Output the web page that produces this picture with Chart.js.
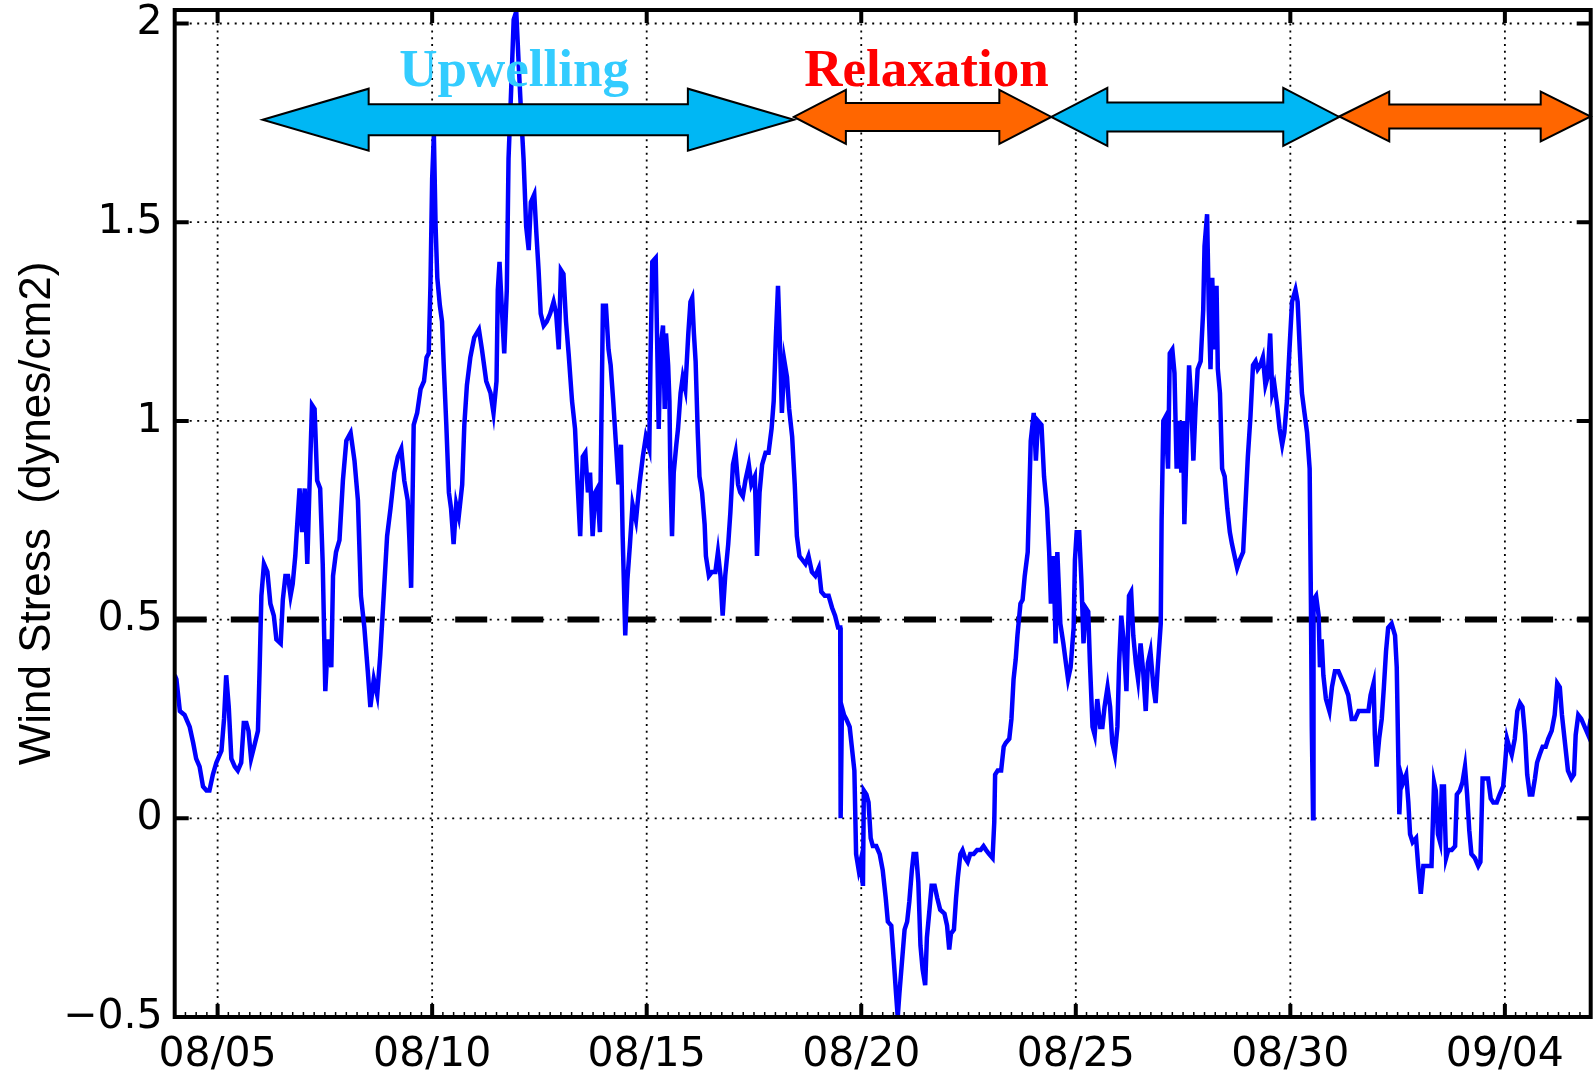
<!DOCTYPE html>
<html>
<head>
<meta charset="utf-8">
<script src="https://cdn.jsdelivr.net/npm/chart.js@4.4.1/dist/chart.umd.min.js"></script>
<style>
  html, body { margin: 0; padding: 0; background: #ffffff; }
  #wrap { width: 1594px; height: 1075px; }
</style>
</head>
<body>
<div id="wrap"><canvas id="stressChart" width="1594" height="1075"></canvas></div>
<script>
// Wind stress record, days counted from 08/04 00:00
const dayOffset = [
  0.00,0.04,0.12,0.23,0.35,0.43,0.50,0.58,0.66,0.74,0.81,0.89,0.97,1.09,1.15,1.20,1.26,1.32,1.40,1.47,1.55,1.61,1.67,1.72,1.78,1.85,1.94,1.98,2.02,2.08,2.16,2.23,2.31,2.37,2.47,2.52,2.58,2.64,2.70,2.75,2.81,2.85,2.91,2.97,3.03,3.09,3.14,3.20,3.26,3.32,3.39,3.45,3.51,3.57,3.65,3.69,3.76,3.84,3.92,4.00,4.10,4.19,4.27,4.34,4.42,4.50,4.56,4.64,4.72,4.79,4.87,4.95,5.03,5.12,5.20,5.28,5.35,5.43,5.47,5.51,
  5.57,5.65,5.73,5.81,5.87,5.92,5.96,6.00,6.04,6.08,6.12,6.18,6.23,6.27,6.33,6.39,6.44,6.50,6.56,6.62,6.70,6.75,6.81,6.89,6.98,7.09,7.16,7.26,7.36,7.43,7.50,7.53,7.57,7.63,7.68,7.74,7.78,7.84,7.90,7.96,8.02,8.07,8.13,8.19,8.25,8.30,8.38,8.43,8.48,8.53,8.60,8.67,8.75,8.83,8.89,8.95,9.00,9.06,9.12,9.18,9.26,9.33,9.39,9.45,9.51,9.57,9.63,9.68,9.74,9.80,9.85,9.91,9.98,10.05,10.11,10.16,10.22,10.29,10.34,10.40,10.44,10.50,10.55,10.61,10.67,10.75,10.83,10.91,10.98,11.06,11.09,
  11.13,11.21,11.24,11.28,11.32,11.38,11.42,11.45,11.50,11.53,11.55,11.59,11.63,11.69,11.73,11.79,11.84,11.90,11.97,12.02,12.06,12.10,12.14,12.19,12.23,12.29,12.35,12.38,12.45,12.52,12.60,12.66,12.72,12.77,12.83,12.90,12.95,13.01,13.07,13.13,13.18,13.24,13.30,13.38,13.44,13.52,13.57,13.63,13.69,13.77,13.84,13.91,13.96,14.01,14.06,14.11,14.15,14.21,14.27,14.32,14.39,14.45,14.50,14.56,14.63,14.70,14.77,14.85,14.93,15.01,15.07,15.15,15.24,15.32,15.39,15.46,15.51,
  15.52,15.55,15.60,15.65,15.73,15.78,15.84,15.88,15.94,15.98,16.04,16.06,16.12,16.17,16.22,16.27,16.35,16.43,16.50,16.57,16.62,16.70,16.76,16.81,16.85,16.89,16.95,17.01,17.07,17.12,17.18,17.22,17.28,17.33,17.38,17.43,17.49,17.53,17.59,17.64,17.71,17.77,17.84,17.94,18.00,18.05,18.09,18.16,18.21,18.25,18.31,18.36,18.42,18.48,18.54,18.62,18.70,18.78,18.85,18.91,18.98,19.06,19.10,19.12,19.18,19.26,19.32,19.37,19.45,19.50,19.55,19.60,19.64,19.71,19.76,19.81,19.88,19.91,19.95,20.02,20.07,20.12,20.20,20.26,20.33,20.38,20.42,20.48,20.53,20.57,20.64,
  20.71,20.77,20.82,20.88,20.95,20.98,21.02,21.08,21.13,21.18,21.23,21.29,21.33,21.39,21.44,21.50,21.57,21.62,21.67,21.74,21.80,21.85,21.91,21.97,22.01,22.06,22.12,22.18,22.24,22.29,22.34,22.40,22.45,22.51,22.57,22.63,22.68,22.74,22.81,22.86,22.91,22.98,23.00,23.04,23.09,23.15,23.19,23.25,23.30,23.35,23.40,23.46,23.50,23.53,23.58,23.64,23.69,23.74,23.79,23.84,23.91,23.97,24.00,24.06,24.10,24.14,24.18,24.23,24.28,24.31,24.36,24.41,24.47,24.53,24.59,24.64,24.70,24.76,24.82,24.90,24.95,25.01,25.07,25.13,25.19,25.24,25.30,25.36,25.42,25.47,25.53,25.58,25.63,25.69,25.75,25.81,25.86,25.92,25.98,26.04,26.12,26.17,26.22,26.27,26.33,26.39,26.45,26.48,26.50,26.53,
  26.54,26.60,26.66,26.69,26.73,26.77,26.83,26.91,26.97,27.04,27.12,27.20,27.28,27.35,27.43,27.51,27.59,27.70,27.82,27.87,27.94,27.97,28.01,28.07,28.13,28.18,28.23,28.28,28.36,28.44,28.48,28.52,28.54,28.58,28.63,28.70,28.75,28.79,28.85,28.93,28.98,29.04,29.10,29.16,29.24,29.29,29.35,29.39,29.44,29.49,29.53,29.58,29.63,29.68,29.76,29.84,29.88,29.95,30.01,30.07,30.12,30.17,30.22,30.30,30.38,30.43,30.48,30.53,30.61,30.67,30.73,30.81,30.88,30.96,31.00,31.05,31.10,31.16,31.23,31.29,31.35,31.41,31.47,31.52,31.58,31.64,31.70,31.75,31.81,31.88,31.95,32.01,32.09,32.16,32.22,32.28,32.33,32.40,32.47,32.55,32.61,32.65,32.71,32.78,32.86,32.94,33.00
];

// Wind stress, dynes/cm2
const windStress = [
  0.36,0.35,0.27,0.26,0.23,0.19,0.15,0.13,0.08,0.07,0.07,0.11,0.14,0.17,0.25,0.36,0.28,0.15,0.13,0.12,0.14,0.24,0.24,0.22,0.15,0.18,0.22,0.38,0.56,0.64,0.62,0.54,0.51,0.45,0.44,0.55,0.61,0.61,0.56,0.59,0.66,0.73,0.83,0.72,0.83,0.64,0.83,1.04,1.03,0.85,0.83,0.64,0.32,0.45,0.38,0.61,0.67,0.70,0.85,0.95,0.97,0.90,0.80,0.56,0.48,0.37,0.28,0.35,0.31,0.41,0.56,0.71,0.78,0.87,0.91,0.93,0.85,0.80,0.70,0.58,
  0.99,1.02,1.08,1.10,1.16,1.17,1.34,1.61,1.72,1.49,1.36,1.29,1.25,1.14,0.99,0.82,0.78,0.69,0.79,0.76,0.84,0.99,1.09,1.16,1.21,1.23,1.18,1.10,1.07,1.02,1.10,1.33,1.40,1.27,1.17,1.33,1.66,1.83,2.01,2.03,1.89,1.78,1.66,1.49,1.43,1.55,1.57,1.47,1.38,1.27,1.24,1.25,1.27,1.30,1.27,1.18,1.38,1.37,1.25,1.17,1.05,0.98,0.84,0.71,0.91,0.92,0.82,0.87,0.71,0.82,0.83,0.72,1.29,1.29,1.18,1.14,1.05,0.93,0.84,0.94,0.71,0.46,0.60,0.69,0.79,0.75,0.84,0.91,0.96,0.93,1.16,
  1.40,1.41,1.22,0.98,1.18,1.24,1.03,1.22,1.14,1.05,0.88,0.71,0.87,0.94,0.98,1.07,1.11,1.08,1.22,1.30,1.31,1.22,1.15,0.97,0.86,0.82,0.74,0.66,0.61,0.62,0.62,0.67,0.61,0.51,0.61,0.69,0.77,0.89,0.92,0.84,0.82,0.81,0.85,0.89,0.84,0.86,0.66,0.82,0.89,0.92,0.92,0.98,1.05,1.21,1.34,1.18,1.02,1.15,1.11,1.03,0.96,0.84,0.71,0.66,0.65,0.64,0.66,0.62,0.61,0.63,0.57,0.56,0.56,0.53,0.51,0.48,0.48,
  0.00,0.28,0.26,0.25,0.23,0.18,0.12,-0.09,-0.13,-0.11,-0.17,0.07,0.06,0.04,-0.05,-0.07,-0.07,-0.09,-0.13,-0.20,-0.26,-0.27,-0.36,-0.44,-0.50,-0.44,-0.36,-0.28,-0.26,-0.21,-0.13,-0.09,-0.09,-0.16,-0.32,-0.38,-0.42,-0.30,-0.23,-0.17,-0.17,-0.20,-0.23,-0.24,-0.27,-0.33,-0.29,-0.28,-0.20,-0.15,-0.09,-0.08,-0.10,-0.11,-0.09,-0.09,-0.08,-0.08,-0.07,-0.08,-0.09,-0.10,-0.01,0.11,0.12,0.12,0.18,0.19,0.20,0.25,0.35,0.40,0.46,0.54,0.55,0.61,0.67,0.79,0.95,1.02,0.90,1.00,0.99,0.86,0.78,0.67,0.54,0.66,0.44,0.67,0.49,
  0.44,0.39,0.35,0.38,0.48,0.65,0.72,0.72,0.60,0.44,0.53,0.52,0.39,0.23,0.21,0.30,0.23,0.23,0.28,0.33,0.28,0.19,0.16,0.23,0.39,0.51,0.44,0.32,0.56,0.57,0.46,0.39,0.35,0.44,0.37,0.27,0.39,0.42,0.33,0.29,0.38,0.49,0.75,1.00,1.01,0.88,1.17,1.18,1.12,0.88,1.00,0.87,1.00,0.74,0.93,1.14,1.05,0.90,1.03,1.13,1.15,1.28,1.44,1.52,1.28,1.13,1.36,1.18,1.34,1.13,1.07,0.88,0.86,0.78,0.72,0.69,0.66,0.63,0.65,0.67,0.78,0.91,1.01,1.14,1.15,1.13,1.14,1.16,1.09,1.11,1.22,1.07,1.09,1.04,0.98,0.94,0.97,1.05,1.18,1.30,1.33,1.30,1.18,1.07,1.02,0.97,0.88,0.54,0.23,0.00,
  0.55,0.56,0.51,0.38,0.45,0.36,0.30,0.27,0.33,0.37,0.37,0.35,0.33,0.31,0.25,0.25,0.27,0.27,0.27,0.31,0.34,0.21,0.13,0.20,0.25,0.33,0.42,0.48,0.49,0.46,0.38,0.13,0.01,0.11,0.09,0.11,0.04,-0.04,-0.06,-0.05,-0.12,-0.19,-0.12,-0.12,-0.12,-0.12,0.09,0.07,-0.04,-0.06,0.08,0.08,-0.10,-0.08,-0.08,-0.07,0.06,0.07,0.09,0.13,0.06,-0.03,-0.09,-0.10,-0.12,-0.11,0.10,0.10,0.10,0.05,0.04,0.04,0.06,0.08,0.13,0.20,0.18,0.16,0.20,0.27,0.29,0.28,0.21,0.11,0.06,0.06,0.10,0.14,0.16,0.18,0.18,0.20,0.22,0.26,0.34,0.33,0.26,0.19,0.12,0.10,0.11,0.21,0.26,0.25,0.23,0.21,0.25
];

// Axis ticks
const xTickDays = [1, 6, 11, 16, 21, 26, 31];
const xTickLabels = ['08/05', '08/10', '08/15', '08/20', '08/25', '08/30', '09/04'];
const yTickValues = [-0.5, 0, 0.5, 1, 1.5, 2];
const yTickLabels = ['\u22120.5', '0', '0.5', '1', '1.5', '2'];
const dayRange = [0, 33];
const stressRange = [-0.5, 2.034];

// Upwelling threshold
const thresholdStress = 0.5;

// Wind regimes marked above the record
const phaseKind = ['Upwelling', 'Relaxation', 'Upwelling', 'Relaxation'];
const phaseStart = [2.05, 14.43, 20.43, 27.14];
const phaseEnd = [14.43, 20.43, 27.14, 33.0];
const phaseLevel = [1.758, 1.765, 1.765, 1.766];
const phaseTitle = ['Upwelling', 'Relaxation'];
const phaseTitleDay = [7.91, 17.52];
const phaseTitleLevel = [1.842, 1.842];

const minorTickStep = 0.25;

const stressPoints = dayOffset.map((d, i) => ({ x: d, y: windStress[i] }));
const thresholdPoints = dayRange.map(d => ({ x: d, y: thresholdStress }));

const phaseColors = { Upwelling: '#00b7f4', Relaxation: '#ff6600' };
const titleColors = { Upwelling: '#33ccff', Relaxation: '#ff0000' };

function doubleArrow(ctx, x0, x1, yc, head, headHalf, shaftHalf) {
  ctx.beginPath();
  ctx.moveTo(x0, yc);
  ctx.lineTo(x0 + head, yc - headHalf);
  ctx.lineTo(x0 + head, yc - shaftHalf);
  ctx.lineTo(x1 - head, yc - shaftHalf);
  ctx.lineTo(x1 - head, yc - headHalf);
  ctx.lineTo(x1, yc);
  ctx.lineTo(x1 - head, yc + headHalf);
  ctx.lineTo(x1 - head, yc + shaftHalf);
  ctx.lineTo(x0 + head, yc + shaftHalf);
  ctx.lineTo(x0 + head, yc + headHalf);
  ctx.closePath();
}

const axesFrame = {
  id: 'axesFrame',
  beforeDatasetsDraw(chart) {
    const { ctx, chartArea: a, scales: { x, y } } = chart;
    ctx.save();
    ctx.strokeStyle = '#000';
    ctx.lineWidth = 1.8;
    ctx.lineCap = 'butt';
    ctx.setLineDash([2, 4.8]);
    xTickDays.forEach(d => {
      const px = x.getPixelForValue(d);
      ctx.beginPath(); ctx.moveTo(px, a.top); ctx.lineTo(px, a.bottom); ctx.stroke();
    });
    ctx.setLineDash([2, 5.5]);
    yTickValues.forEach(v => {
      const py = y.getPixelForValue(v);
      ctx.beginPath(); ctx.moveTo(a.left, py); ctx.lineTo(a.right, py); ctx.stroke();
    });
    ctx.restore();
  },
  afterDatasetsDraw(chart, args, opts) {
    const { ctx, chartArea: a, scales: { x, y } } = chart;
    ctx.save();
    // regime arrows
    phaseKind.forEach((kind, i) => {
      const x0 = x.getPixelForValue(phaseStart[i]);
      const x1 = x.getPixelForValue(phaseEnd[i]);
      const yc = y.getPixelForValue(phaseLevel[i]);
      doubleArrow(ctx, x0, x1, yc, opts.headLength[i], opts.headHalf[i], opts.shaftHalf[i]);
      ctx.fillStyle = phaseColors[kind];
      ctx.fill();
      ctx.lineWidth = 2;
      ctx.lineJoin = 'miter';
      ctx.strokeStyle = '#000';
      ctx.stroke();
    });
    // regime names
    ctx.font = 'bold 53px "Liberation Serif", "Times New Roman", serif';
    ctx.textAlign = 'center';
    ctx.textBaseline = 'alphabetic';
    phaseTitle.forEach((t, i) => {
      ctx.fillStyle = titleColors[t];
      ctx.fillText(t, x.getPixelForValue(phaseTitleDay[i]), y.getPixelForValue(phaseTitleLevel[i]));
    });
    // axes box
    ctx.strokeStyle = '#000';
    ctx.lineWidth = 4;
    ctx.strokeRect(a.left, a.top, a.right - a.left, a.bottom - a.top);
    // major ticks pointing inward
    ctx.lineWidth = 4;
    xTickDays.forEach(d => {
      const px = x.getPixelForValue(d);
      ctx.beginPath();
      ctx.moveTo(px, a.bottom); ctx.lineTo(px, a.bottom - 13);
      ctx.moveTo(px, a.top); ctx.lineTo(px, a.top + 13);
      ctx.stroke();
    });
    yTickValues.forEach(v => {
      const py = y.getPixelForValue(v);
      ctx.beginPath();
      ctx.moveTo(a.left, py); ctx.lineTo(a.left + 14, py);
      ctx.moveTo(a.right, py); ctx.lineTo(a.right - 14, py);
      ctx.stroke();
    });
    // minor ticks along the time axis
    ctx.lineWidth = 1.5;
    for (let d = dayRange[0] + minorTickStep; d < dayRange[1]; d += minorTickStep) {
      const px = x.getPixelForValue(d);
      ctx.beginPath(); ctx.moveTo(px, a.bottom); ctx.lineTo(px, a.bottom - 5); ctx.stroke();
    }
    ctx.restore();
  }
};

new Chart(document.getElementById('stressChart'), {
  type: 'line',
  data: {
    datasets: [
      {
        label: 'Wind stress',
        data: stressPoints,
        borderColor: '#0000ff',
        borderWidth: 4.5,
        pointRadius: 0,
        tension: 0,
        order: 0
      },
      {
        label: 'Threshold',
        data: thresholdPoints,
        borderColor: '#000000',
        borderWidth: 6,
        borderDash: [32, 24.1],
        pointRadius: 0,
        order: 1
      }
    ]
  },
  options: {
    responsive: false,
    devicePixelRatio: 1,
    animation: false,
    layout: { padding: { left: 0, top: 10, right: 3.3, bottom: 0 } },
    plugins: {
      legend: { display: false },
      tooltip: { enabled: false },
      axesFrame: {
        headLength: [106, 52, 56, 50],
        headHalf: [31, 27, 29, 25],
        shaftHalf: [15.5, 14, 14.5, 12]
      }
    },
    scales: {
      x: {
        type: 'linear',
        min: dayRange[0],
        max: dayRange[1],
        afterBuildTicks: s => { s.ticks = xTickDays.map(v => ({ value: v })); },
        afterFit: s => { s.height = 58; s.paddingLeft = 0; s.paddingRight = 0; },
        grid: { display: false, drawTicks: false },
        border: { display: false },
        ticks: {
          autoSkip: false,
          maxRotation: 0,
          padding: 14,
          color: '#000',
          font: { family: '"DejaVu Sans", sans-serif', size: 41 },
          callback: (v, i) => xTickLabels[i]
        }
      },
      y: {
        type: 'linear',
        min: stressRange[0],
        max: stressRange[1],
        afterBuildTicks: s => { s.ticks = yTickValues.map(v => ({ value: v })); },
        afterFit: s => { s.width = 174.7; s.paddingTop = 0; s.paddingBottom = 0; },
        grid: { display: false, drawTicks: false },
        border: { display: false },
        ticks: {
          padding: 12,
          color: '#000',
          font: { family: '"DejaVu Sans", sans-serif', size: 41 },
          callback: (v, i) => yTickLabels[i]
        },
        title: {
          display: true,
          text: 'Wind Stress  (dynes/cm2)',
          color: '#000',
          font: { family: '"Liberation Sans", Arial, sans-serif', size: 44 },
          padding: { top: 11, bottom: 0 }
        }
      }
    }
  },
  plugins: [axesFrame]
});
</script>
</body>
</html>
